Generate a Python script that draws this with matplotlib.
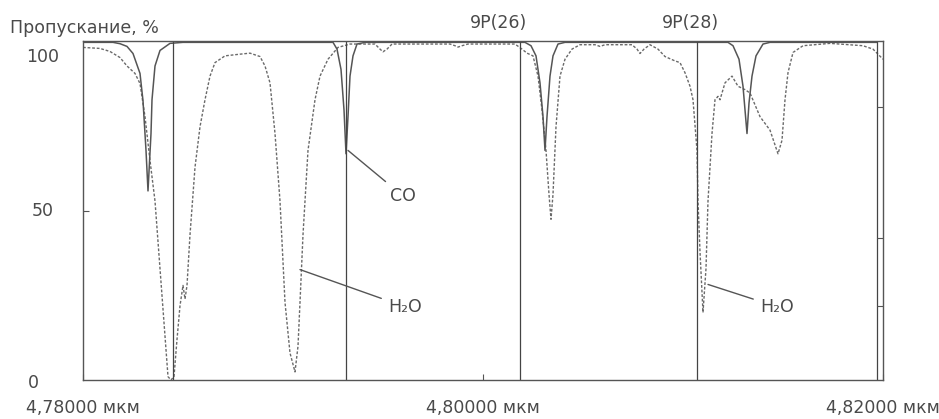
import matplotlib
matplotlib.use("Agg")
import matplotlib.pyplot as plt

# wavelength, mkm / transmission, %  (narrow lines, solid curve)
wl_solid = [4.78000, 4.78150, 4.78185, 4.78220, 4.78250, 4.78285, 4.78300,
            4.78315, 4.78325, 4.78340, 4.78345, 4.78360, 4.78385, 4.78435,
            4.78500,
            4.79250, 4.79270, 4.79290, 4.79305, 4.79315, 4.79325, 4.79335,
            4.79350, 4.79370, 4.79410,
            4.80210, 4.80240, 4.80265, 4.80285, 4.80300, 4.80310, 4.80320,
            4.80335, 4.80350, 4.80375, 4.80410,
            4.81225, 4.81250, 4.81280, 4.81300, 4.81310, 4.81320, 4.81330,
            4.81345, 4.81365, 4.81400, 4.81435, 4.81970]
tr_solid = [100, 100, 99.6, 98.8, 96.7, 90.8, 82.7,
            68, 56, 73, 83, 93, 97.6, 99.7,
            100,
            100, 98, 92, 80, 67, 78, 90,
            96, 99.5, 100,
            100, 99, 96, 88, 78, 68, 78,
            90, 96, 99.5, 100,
            100, 99, 95, 87, 80, 73, 82,
            90, 96, 99.5, 100, 100]

# atmosphere (dashed curve)
wl_dash = [4.78000, 4.78085, 4.78135, 4.78185, 4.78220, 4.78260, 4.78285,
           4.78310, 4.78335, 4.78360, 4.78385, 4.78410, 4.78425, 4.78440,
           4.78455, 4.78470, 4.78485, 4.78500, 4.78510, 4.78520, 4.78535,
           4.78560, 4.78585, 4.78610, 4.78635, 4.78660, 4.78710, 4.78785,
           4.78835, 4.78885, 4.78910, 4.78935, 4.78960, 4.78985, 4.79010,
           4.79035, 4.79060, 4.79075, 4.79085, 4.79100, 4.79125, 4.79160,
           4.79185, 4.79225, 4.79275, 4.79335, 4.79460, 4.79485, 4.79500,
           4.79520, 4.79545, 4.79835, 4.79860, 4.79875, 4.79895, 4.79925,
           4.80160, 4.80195, 4.80220, 4.80250, 4.80275, 4.80295, 4.80315,
           4.80330, 4.80340, 4.80350, 4.80365, 4.80385, 4.80410, 4.80445,
           4.80485, 4.80560, 4.80585, 4.80610, 4.80745, 4.80770, 4.80785,
           4.80805, 4.80835, 4.80875, 4.80910, 4.80960, 4.80985, 4.81010,
           4.81035, 4.81050, 4.81070, 4.81075, 4.81085, 4.81100, 4.81115,
           4.81125, 4.81145, 4.81160, 4.81175, 4.81185, 4.81195, 4.81210,
           4.81245, 4.81275, 4.81310, 4.81335, 4.81385, 4.81435, 4.81475,
           4.81495, 4.81510, 4.81525, 4.81550, 4.81600, 4.81735, 4.81900,
           4.81950, 4.82000]
tr_dash = [98.5, 98.2, 97.3, 95.5, 93, 90.8, 87.8,
           78, 65, 53, 33, 13, 1, 0,
           1, 12, 22, 28, 24, 28, 43,
           63, 75, 83, 90, 94, 96, 96.5,
           96.8, 95.8, 93, 88, 73, 53, 23,
           8, 2.4, 10, 23, 43, 68, 83,
           90, 95, 98.5, 99.5, 99.5, 98, 97.2,
           98, 99.5, 99.5, 99, 98.6, 99, 99.5,
           99.5, 98, 96.8, 96, 90, 80, 68,
           55, 47.6, 55, 75, 90, 95, 98,
           99.3, 99.3, 98.8, 99.3, 99.3, 98, 96.7,
           98, 99.3, 98, 95.8, 94.5, 94, 91,
           87, 83, 68, 53, 38, 20, 33,
           53, 73, 83, 84, 83, 85, 88,
           90, 87, 86, 85, 78, 74, 67,
           71, 83, 91, 97, 99, 99.7, 99,
           98, 95]

# vertical markers
laser_lines = [4.78450, 4.79315, 4.80185, 4.81070, 4.81970]
laser_names = ["9P(26)", "9P(28)"]
laser_name_x = [4.80080, 4.81035]
right_marks = [81, 42, 22]

gray = "#555555"
txt = "#4a4a4a"
fs = 12.5

fig = plt.figure(figsize=(9.39, 4.19), dpi=100)
ax = fig.add_axes([83 / 939, 39 / 419, 800 / 939, 339 / 419])

ax.plot(wl_dash, tr_dash, color="#6a6a6a", lw=1.0, linestyle=(0, (2, 1.3)))
ax.plot(wl_solid, tr_solid, color=gray, lw=1.1)
for x in laser_lines:
    ax.axvline(x, color="#444444", lw=0.9)
ax.hlines(right_marks, laser_lines[-1], 4.82, color=gray, lw=0.8)

ax.set_xlim(4.78, 4.82)
ax.set_ylim(0, 100.4)
for s in ax.spines.values():
    s.set_color(gray)
    s.set_linewidth(1.0)

ax.set_xticks([4.78, 4.80, 4.82])
ax.set_xticklabels(["4,78000 мкм", "4,80000 мкм", "4,82000 мкм"])
ax.set_yticks([50])
ax.set_yticklabels([])
ax.tick_params(direction="in", length=4, color=gray, labelsize=fs,
               labelcolor=txt, pad=14)

# y labels
ax.text(-0.051, 95.8, "100", transform=ax.get_yaxis_transform(),
        ha="center", va="center", fontsize=fs, color=txt)
ax.text(-0.050, 50, "50", transform=ax.get_yaxis_transform(),
        ha="center", va="center", fontsize=fs, color=txt)
ax.text(-0.062, -1, "0", transform=ax.get_yaxis_transform(),
        ha="center", va="center", fontsize=fs, color=txt)

fig.text(10 / 939, 1 - 28 / 419, "Пропускание, %", ha="left", va="center",
         fontsize=fs, color=txt)

for name, x in zip(laser_names, laser_name_x):
    ax.text(x, 105.7, name, ha="center", va="center", fontsize=fs,
            color=txt, clip_on=False)

lead = dict(arrowstyle="-", color="#555555", lw=1.0, shrinkA=3, shrinkB=0)
ax.annotate("CO", xy=(4.79325, 68), xytext=(4.79535, 54.5),
            ha="left", va="center", fontsize=fs, color=txt, arrowprops=lead)
ax.annotate("H₂O", xy=(4.79085, 32.7), xytext=(4.79525, 21.7),
            ha="left", va="center", fontsize=fs, color=txt, arrowprops=lead)
ax.annotate("H₂O", xy=(4.81125, 28.3), xytext=(4.81385, 21.7),
            ha="left", va="center", fontsize=fs, color=txt, arrowprops=lead)

fig.savefig("out.png", dpi=100, facecolor="white")
